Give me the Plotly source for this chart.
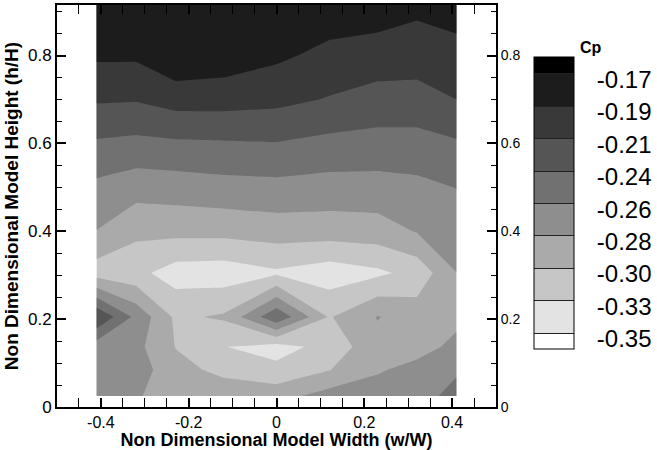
import plotly.graph_objects as go

# Grid of measurement positions
x_cols = [-0.41, -0.32, -0.23, -0.12, 0.0, 0.12, 0.23, 0.32, 0.41]
y_rows = [0.025, 0.085, 0.137, 0.205, 0.305, 0.40, 0.50, 0.60, 0.70, 0.80, 0.92]

# Cp values, one list per row (bottom to top), columns as x_cols
cp_y0025 = [-0.275, -0.281, -0.290, -0.296, -0.291, -0.273, -0.276, -0.266, -0.255]
cp_y0085 = [-0.274, -0.269, -0.300, -0.309, -0.322, -0.306, -0.284, -0.278, -0.262]
cp_y0137 = [-0.272, -0.276, -0.3055, -0.327, -0.336, -0.320, -0.289, -0.288, -0.279]
cp_y0205 = [-0.216, -0.266, -0.309, -0.302, -0.242, -0.307, -0.2815, -0.2927, -0.286]
cp_y0305 = [-0.316, -0.321, -0.338, -0.340, -0.331, -0.340, -0.332, -0.320, -0.2827]
cp_y0400 = [-0.283, -0.2998, -0.2985, -0.2979, -0.2941, -0.2944, -0.2925, -0.2812, -0.2715]
cp_y0500 = [-0.2652, -0.2729, -0.2714, -0.268, -0.2663, -0.2687, -0.2684, -0.2655, -0.2595]
cp_y0600 = [-0.2403, -0.2431, -0.2408, -0.2396, -0.2384, -0.2436, -0.2457, -0.2457, -0.240]
cp_y0700 = [-0.2124, -0.2135, -0.2059, -0.206, -0.209, -0.2164, -0.2234, -0.2233, -0.215]
cp_y0800 = [-0.189, -0.189, -0.174, -0.179, -0.1884, -0.1986, -0.203, -0.2051, -0.200]
cp_y0920 = [-0.175, -0.175, -0.173, -0.174, -0.176, -0.178, -0.179, -0.1862, -0.182]

cp_grid = [cp_y0025, cp_y0085, cp_y0137, cp_y0205, cp_y0305, cp_y0400,
           cp_y0500, cp_y0600, cp_y0700, cp_y0800, cp_y0920]

# Contour levels and colour-bar labels
level_start = -0.35
level_end = -0.17
level_step = 0.0225
levels = [-0.35, -0.3275, -0.305, -0.2825, -0.26, -0.2375, -0.215, -0.1925, -0.17]
level_labels = ["-0.35", "-0.33", "-0.30", "-0.28", "-0.26", "-0.24", "-0.21", "-0.19", "-0.17"]

x_tickvals = [-0.4, -0.2, 0, 0.2, 0.4]
x_ticktext = ["-0.4", "-0.2", "0", "0.2", "0.4"]
y_tickvals = [0, 0.2, 0.4, 0.6, 0.8]
y_ticktext = ["0", "0.2", "0.4", "0.6", "0.8"]

FONT = "Arial, Liberation Sans, sans-serif"
gray_scale = [[0, "#ffffff"], [1, "#000000"]]

# labels sit a little below their level line, as in the original legend
label_shift = 0.19 * level_step
label_positions = [v - label_shift for v in levels]

fig = go.Figure()

# Filled contour (no lines)
fig.add_trace(go.Contour(
    x=x_cols, y=y_rows, z=cp_grid,
    autocontour=False,
    contours=dict(start=level_start, end=level_end, size=level_step,
                  coloring="fill", showlines=False),
    line=dict(smoothing=0, width=0),
    colorscale=gray_scale,
    showscale=False,
    hoverinfo="skip",
))

# Same data on the right-hand axis, transparent, to carry the colour bar
fig.add_trace(go.Contour(
    x=x_cols, y=y_rows, z=cp_grid, yaxis="y2",
    autocontour=False,
    contours=dict(start=level_start, end=level_end, size=level_step,
                  coloring="fill", showlines=True),
    line=dict(smoothing=0, width=1, color="#222222"),
    colorscale=gray_scale,
    opacity=0,
    showscale=True,
    hoverinfo="skip",
    colorbar=dict(
        thickness=40, thicknessmode="pixels",
        len=292, lenmode="pixels",
        x=1.0866, xanchor="left", xpad=0,
        y=0.5075, yanchor="middle", ypad=0,
        outlinewidth=1, outlinecolor="black", borderwidth=0,
        tickmode="array", tickvals=label_positions, ticktext=level_labels,
        ticks="outside", ticklen=18, tickcolor="rgba(0,0,0,0)",
        tickfont=dict(size=24, color="black", family=FONT),
    ),
))

axis_common = dict(showgrid=False, zeroline=False, showline=True,
                   linecolor="black", linewidth=2,
                   ticks="inside", ticklen=9, tickwidth=2, tickcolor="black")

fig.update_layout(
    width=657, height=450,
    margin=dict(l=57, r=161, t=5, b=43, autoexpand=False),
    paper_bgcolor="white", plot_bgcolor="white",
    font=dict(family=FONT, color="black"),
    showlegend=False,
    xaxis=dict(
        **axis_common,
        range=[-0.5, 0.5], mirror="allticks",
        tickmode="array", tickvals=x_tickvals, ticktext=x_ticktext,
        tickfont=dict(size=16), ticklabelstandoff=0,
        minor=dict(tickmode="linear", tick0=0, dtick=0.05, ticks="inside",
                   ticklen=5, tickwidth=1, tickcolor="black"),
        title=dict(text="Non Dimensional Model Width (w/W)",
                   font=dict(size=18, weight="bold"), standoff=1),
    ),
    yaxis=dict(
        **axis_common,
        range=[0, 0.915],
        tickmode="array", tickvals=y_tickvals, ticktext=y_ticktext,
        tickfont=dict(size=17),
        minor=dict(tickmode="linear", tick0=0, dtick=0.05, ticks="inside",
                   ticklen=5, tickwidth=1, tickcolor="black"),
        title=dict(text="Non Dimensional Model Height (h/H)",
                   font=dict(size=19, weight="bold"), standoff=4),
    ),
    yaxis2=dict(
        **axis_common,
        range=[0, 0.915], overlaying="y", side="right", anchor="x",
        tickmode="array", tickvals=y_tickvals, ticktext=y_ticktext,
        tickfont=dict(size=14),
        minor=dict(tickmode="linear", tick0=0, dtick=0.05, ticks="inside",
                   ticklen=5, tickwidth=1, tickcolor="black"),
    ),
    annotations=[dict(text="<b>Cp</b>", x=1.1868, y=0.8955, xref="paper", yref="paper",
                      xanchor="left", yanchor="middle", showarrow=False,
                      font=dict(size=16, color="black", family=FONT))],
)

fig.write_html("out.html")
